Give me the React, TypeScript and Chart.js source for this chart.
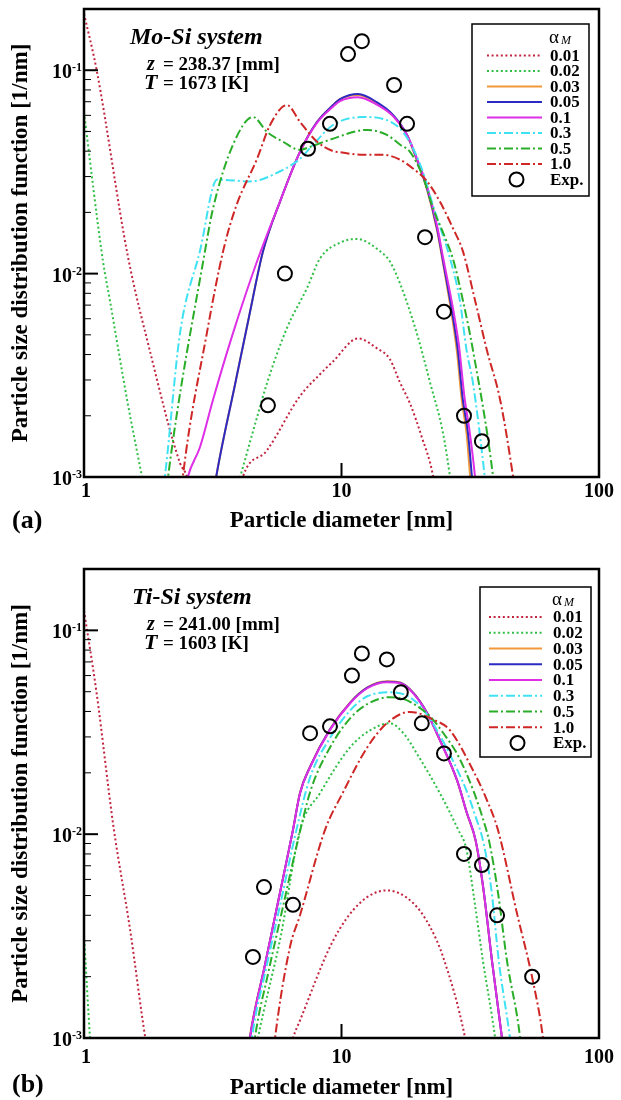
import { useEffect, useRef } from 'react';
import { Chart, registerables } from 'chart.js';

Chart.register(...registerables);

const SERIF = '"Liberation Serif", "Times New Roman", serif';
const W = 621;
const H = 550;

// ---------- (a) Mo-Si system: diameters [nm] and distribution [1/nm] ----------
const moD001 = [1.0, 1.12, 1.48, 1.8, 2.36, 2.51, 3.2, 4.14, 5.13, 6.9, 8.25, 9.27, 11.6, 13.7, 15.4, 16.9, 18.45, 20.5, 22.7, 25.0];
const moF001 = [0.19, 0.1, 0.0122, 0.0042, 0.00117, 0.001, 0.0002, 0.001, 0.00135, 0.0025, 0.0032, 0.0037, 0.0048, 0.0043, 0.0038, 0.0029, 0.0023, 0.00157, 0.001, 0.0004];
const moD002 = [1.0, 1.185, 1.26, 1.47, 1.68, 2.4, 4.04, 4.7, 5.14, 6.14, 7.35, 8.26, 10.0, 11.5, 14.1, 15.4, 16.9, 19.6, 22.1, 24.8, 26.4, 29.0];
const moF002 = [0.062, 0.0115, 0.0074, 0.0024, 0.001, 0.0001, 0.001, 0.00197, 0.0029, 0.0054, 0.0085, 0.0119, 0.0143, 0.0148, 0.0129, 0.0115, 0.0089, 0.0051, 0.0029, 0.00164, 0.001, 0.0004];
const moD003 = [3.0, 3.26, 3.87, 4.37, 4.96, 5.77, 6.9, 8.04, 9.27, 9.87, 11.6, 13.7, 15.85, 17.97, 19.6, 21.5, 23.5, 24.8, 27.0, 28.1, 29.3, 30.6, 31.6, 33.5];
const moF003 = [0.0005, 0.001, 0.0029, 0.0061, 0.0129, 0.0226, 0.0397, 0.0557, 0.0674, 0.0721, 0.0755, 0.069, 0.0598, 0.0478, 0.0362, 0.0258, 0.0163, 0.0112, 0.0059, 0.0041, 0.0024, 0.00164, 0.001, 0.0004];
const moD005 = [3.0, 3.26, 3.87, 4.37, 4.96, 5.77, 6.9, 8.04, 9.27, 9.87, 11.6, 13.7, 15.85, 17.97, 19.6, 21.5, 23.5, 24.8, 27.1, 28.3, 29.6, 31.0, 32.1, 34.0];
const moF005 = [0.0005, 0.001, 0.0029, 0.0061, 0.0129, 0.0226, 0.0397, 0.0557, 0.0674, 0.0721, 0.0763, 0.0697, 0.0603, 0.0481, 0.0367, 0.0262, 0.0167, 0.0115, 0.0061, 0.0042, 0.0024, 0.00164, 0.001, 0.0004];
const moD01 = [2.4, 2.53, 2.82, 3.17, 3.79, 4.7, 5.77, 6.9, 8.04, 9.27, 9.87, 11.6, 13.7, 15.85, 17.97, 19.6, 21.5, 23.5, 24.8, 27.3, 28.6, 30.0, 31.5, 33.0, 35.0];
const moF01 = [0.0007, 0.001, 0.0014, 0.0024, 0.0051, 0.0115, 0.0226, 0.0397, 0.0552, 0.0662, 0.0705, 0.0736, 0.0678, 0.0595, 0.048, 0.037, 0.0268, 0.0172, 0.012, 0.0064, 0.0044, 0.0025, 0.00165, 0.001, 0.0004];
const moD03 = [1.9, 2.06, 2.36, 2.82, 3.29, 4.41, 5.93, 6.9, 7.75, 9.27, 12.1, 14.5, 16.9, 19.0, 21.0, 22.2, 24.2, 25.9, 28.8, 30.6, 32.4, 36.0, 38.0];
const moF03 = [0.0005, 0.001, 0.0051, 0.0129, 0.029, 0.0284, 0.0324, 0.0367, 0.043, 0.0538, 0.0589, 0.0576, 0.0515, 0.0411, 0.03, 0.0235, 0.0168, 0.0129, 0.0074, 0.0042, 0.0029, 0.001, 0.0005];
const moD05 = [2.0, 2.12, 2.95, 3.17, 3.79, 4.53, 5.14, 5.93, 6.9, 7.55, 9.0, 12.6, 15.0, 16.9, 18.45, 20.7, 22.7, 25.0, 27.1, 29.6, 32.4, 38.8, 41.0];
const moF05 = [0.0005, 0.001, 0.0129, 0.0209, 0.043, 0.0589, 0.0497, 0.0445, 0.0406, 0.042, 0.0455, 0.0509, 0.0481, 0.043, 0.0397, 0.03, 0.0209, 0.0155, 0.0118, 0.0074, 0.0042, 0.001, 0.0005];
const moD10 = [2.3, 2.42, 3.0, 3.47, 3.9, 4.7, 5.28, 6.14, 6.9, 8.04, 9.27, 9.87, 12.1, 14.5, 16.9, 19.0, 21.5, 24.1, 27.1, 29.6, 33.0, 36.7, 41.3, 46.4, 50.0];
const moF10 = [0.0005, 0.001, 0.0051, 0.0129, 0.0215, 0.0367, 0.0538, 0.0674, 0.0557, 0.0445, 0.04, 0.0395, 0.0384, 0.0384, 0.0363, 0.0328, 0.0284, 0.0226, 0.0167, 0.0129, 0.0074, 0.0042, 0.0024, 0.001, 0.0005];
const moExpD = [5.18, 6.03, 7.41, 9.02, 10.6, 12.0, 16.0, 17.97, 21.1, 25.0, 29.9, 35.1];
const moExpF = [0.00225, 0.01, 0.0411, 0.0545, 0.12, 0.139, 0.0846, 0.0545, 0.0151, 0.0065, 0.002, 0.0015];

// ---------- (b) Ti-Si system ----------
const tiD001 = [1.0, 1.12, 1.3, 1.51, 1.73, 3.0, 6.48, 6.9, 9.27, 11.8, 15.0, 18.96, 22.1, 24.8, 30.2, 33.0];
const tiF001 = [0.125, 0.049, 0.011, 0.0034, 0.001, 0.00002, 0.001, 0.00122, 0.003, 0.0046, 0.0053, 0.0046, 0.0035, 0.0025, 0.001, 0.0005];
const tiD002 = [1.0, 1.055, 1.2, 3.8, 4.74, 5.82, 6.9, 8.25, 10.8, 12.9, 15.4, 17.5, 19.6, 24.1, 28.4, 30.5, 33.0, 35.4, 39.5, 42.0];
const tiF002 = [0.0032, 0.001, 0.0001, 0.0002, 0.001, 0.0032, 0.0105, 0.0159, 0.0267, 0.0323, 0.035, 0.031, 0.0249, 0.0159, 0.0105, 0.0085, 0.0045, 0.0024, 0.001, 0.0005];
const tiD003 = [4.2, 4.4, 5.05, 5.72, 6.48, 6.9, 7.55, 9.0, 10.8, 12.6, 15.0, 16.9, 19.0, 21.5, 24.1, 28.1, 30.7, 33.2, 35.5, 38.4, 42.0, 45.0];
const tiF003 = [0.0006, 0.001, 0.0023, 0.0049, 0.0105, 0.016, 0.0215, 0.0326, 0.0443, 0.0525, 0.0562, 0.0555, 0.0494, 0.0393, 0.0289, 0.0183, 0.0126, 0.0092, 0.0054, 0.0024, 0.001, 0.0005];
const tiD005 = [4.2, 4.41, 5.05, 5.72, 6.48, 6.9, 7.55, 9.0, 10.8, 12.6, 15.0, 16.9, 19.0, 21.5, 24.1, 28.1, 30.7, 33.2, 35.5, 38.4, 42.0, 45.0];
const tiF005 = [0.0006, 0.001, 0.0023, 0.0049, 0.0105, 0.0159, 0.0214, 0.0325, 0.0441, 0.0523, 0.056, 0.0553, 0.0493, 0.0393, 0.029, 0.0184, 0.0127, 0.0093, 0.0055, 0.0024, 0.001, 0.0005];
const tiD01 = [4.2, 4.41, 5.05, 5.72, 6.48, 6.9, 7.55, 9.0, 10.8, 12.6, 15.0, 16.9, 19.0, 21.5, 24.1, 28.1, 30.7, 33.2, 35.5, 38.4, 42.0, 45.0];
const tiF01 = [0.0006, 0.001, 0.0023, 0.0049, 0.0105, 0.0159, 0.0213, 0.0323, 0.0439, 0.052, 0.0556, 0.055, 0.0491, 0.0392, 0.0289, 0.0184, 0.0127, 0.0093, 0.0055, 0.0024, 0.001, 0.0005];
const tiD03 = [4.3, 4.49, 5.1, 5.8, 6.6, 7.55, 9.0, 10.8, 12.6, 15.7, 17.5, 19.5, 22.0, 25.0, 28.0, 30.5, 32.8, 35.8, 38.3, 40.8, 45.1, 48.0];
const tiF03 = [0.0006, 0.001, 0.0022, 0.0046, 0.0098, 0.019, 0.0295, 0.0405, 0.0475, 0.0497, 0.0485, 0.0445, 0.037, 0.028, 0.021, 0.0165, 0.0127, 0.0088, 0.0052, 0.0024, 0.001, 0.0005];
const tiD05 = [4.4, 4.61, 5.2, 5.9, 6.7, 7.6, 9.0, 10.8, 12.6, 15.4, 17.5, 19.5, 22.0, 25.0, 28.5, 32.6, 35.5, 37.4, 40.5, 43.9, 49.4, 52.0];
const tiF05 = [0.0006, 0.001, 0.0021, 0.0043, 0.0088, 0.0165, 0.0265, 0.037, 0.0435, 0.047, 0.046, 0.0428, 0.038, 0.031, 0.024, 0.0162, 0.0118, 0.0093, 0.0052, 0.0024, 0.001, 0.0005];
const tiD10 = [5.3, 5.52, 6.31, 6.9, 8.63, 10.1, 12.6, 15.0, 18.45, 22.7, 26.4, 32.4, 36.7, 40.5, 48.0, 55.4, 60.6, 64.0];
const tiF10 = [0.0006, 0.001, 0.0028, 0.004, 0.0105, 0.0159, 0.0267, 0.035, 0.0398, 0.0365, 0.0323, 0.0206, 0.0147, 0.0105, 0.0041, 0.0019, 0.001, 0.0005];
const tiExpD = [4.53, 5.0, 6.48, 7.55, 9.02, 10.98, 12.0, 15.0, 17.0, 20.5, 25.0, 29.9, 35.1, 40.2, 55.0];
const tiExpF = [0.0025, 0.0055, 0.0045, 0.0313, 0.0338, 0.06, 0.077, 0.072, 0.0497, 0.035, 0.0249, 0.008, 0.00705, 0.004, 0.002];

// ---------- shared labels and ticks ----------
const alphaLabels = ['0.01', '0.02', '0.03', '0.05', '0.1', '0.3', '0.5', '1.0'];
const expLabel = 'Exp.';
const xTicks = [1, 10, 100];
const xTickLabels = ['1', '10', '100'];
const yTicks = [0.001, 0.01, 0.1];
const yTickExps = ['-3', '-2', '-1'];
const xTitle = 'Particle diameter [nm]';
const yTitle = 'Particle size distribution function [1/nm]';

// line styles, one per alpha_M value
const lineColors = ['#c2243f', '#2fbf45', '#f0983a', '#2b2bc4', '#de2ee6', '#3fe2f2', '#2aae2a', '#cf2626'];
const DOT = [2, 2.6];
const DASHDOT = [9, 3, 2, 3];
const lineDashes = [DOT, DOT, [], [], [], DASHDOT, DASHDOT, DASHDOT];
const drawOrder = [8, 7, 6, 5, 4, 3, 2, 1];

type PanelSpec = {
  top: number;
  padTop: number;
  axisH: number;
  xs: number[][];
  ys: number[][];
  expX: number[];
  expY: number[];
  system: string;
  zText: string;
  tText: string;
  tag: string;
  systemX: number;
  xLabelBase: number;
  xTitleBase: number;
  tagBase: number;
  legend: { l: number; r: number; t: number; b: number; titleY: number; row0: number; step: number; s0: number; s1: number; tx: number };
};

const panelA: PanelSpec = {
  top: 0,
  padTop: 7,
  axisH: 73,
  xs: [moD001, moD002, moD003, moD005, moD01, moD03, moD05, moD10],
  ys: [moF001, moF002, moF003, moF005, moF01, moF03, moF05, moF10],
  expX: moExpD,
  expY: moExpF,
  system: 'Mo-Si system',
  zText: '= 238.37 [mm]',
  tText: '= 1673 [K]',
  tag: '(a)',
  systemX: 130,
  xLabelBase: 20,
  xTitleBase: 50,
  tagBase: 51,
  legend: { l: 472, r: 589, t: 24, b: 196, titleY: 38, row0: 55.5, step: 15.5, s0: 487, s1: 542, tx: 550 },
};

const panelB: PanelSpec = {
  top: 550,
  padTop: 19,
  axisH: 62,
  xs: [tiD001, tiD002, tiD003, tiD005, tiD01, tiD03, tiD05, tiD10],
  ys: [tiF001, tiF002, tiF003, tiF005, tiF01, tiF03, tiF05, tiF10],
  expX: tiExpD,
  expY: tiExpF,
  system: 'Ti-Si system',
  zText: '= 241.00 [mm]',
  tText: '= 1603 [K]',
  tag: '(b)',
  systemX: 132,
  xLabelBase: 25,
  xTitleBase: 56,
  tagBase: 54,
  legend: { l: 480, r: 591, t: 37, b: 207, titleY: 50, row0: 67, step: 15.75, s0: 489, s1: 542, tx: 553 },
};

function decor(spec: PanelSpec) {
  return {
    id: 'decor',
    afterDraw(chart: any) {
      const { ctx, chartArea: a } = chart;
      const sx = chart.scales.x;
      const sy = chart.scales.y;
      const seg = (x1: number, y1: number, x2: number, y2: number) => {
        ctx.beginPath();
        ctx.moveTo(x1, y1);
        ctx.lineTo(x2, y2);
        ctx.stroke();
      };
      ctx.save();
      ctx.strokeStyle = '#000';
      ctx.fillStyle = '#000';
      ctx.setLineDash([]);

      // minor y ticks
      ctx.lineWidth = 1;
      for (let d = -3; d <= -1; d++) {
        for (let k = 2; k <= 9; k++) {
          const v = k * Math.pow(10, d);
          if (v >= sy.max) continue;
          const py = sy.getPixelForValue(v);
          seg(a.left, py, a.left + 7, py);
        }
      }
      // major ticks
      ctx.lineWidth = 2;
      yTicks.forEach((v) => {
        const py = sy.getPixelForValue(v);
        seg(a.left, py, a.left + 14, py);
      });
      xTicks.forEach((v) => {
        const px = sx.getPixelForValue(v);
        seg(px, a.bottom, px, a.bottom - 14);
      });
      // frame
      ctx.lineWidth = 2.5;
      ctx.strokeRect(a.left, a.top, a.right - a.left, a.bottom - a.top);

      // y tick labels 10^n
      yTicks.forEach((v, i) => {
        const py = sy.getPixelForValue(v);
        ctx.font = `bold 12px ${SERIF}`;
        ctx.textAlign = 'left';
        ctx.textBaseline = 'alphabetic';
        const ws = ctx.measureText(yTickExps[i]).width;
        const xr = a.left - 2;
        ctx.fillText(yTickExps[i], xr - ws, py + 1);
        ctx.font = `bold 20px ${SERIF}`;
        ctx.textAlign = 'right';
        ctx.fillText('10', xr - ws, py + 8);
      });
      // x tick labels
      ctx.font = `bold 20px ${SERIF}`;
      ctx.textAlign = 'center';
      ctx.textBaseline = 'alphabetic';
      xTicks.forEach((v, i) => {
        ctx.fillText(xTickLabels[i], sx.getPixelForValue(v) + (i === 0 ? 2 : 0), a.bottom + spec.xLabelBase);
      });
      // axis titles
      ctx.font = `bold 23px ${SERIF}`;
      ctx.fillText(xTitle, (a.left + a.right) / 2, a.bottom + spec.xTitleBase);
      ctx.save();
      ctx.translate(21, (a.top + a.bottom) / 2);
      ctx.rotate(-Math.PI / 2);
      ctx.textBaseline = 'middle';
      ctx.fillText(yTitle, 0, 0);
      ctx.restore();
      // panel tag
      ctx.font = `bold 26px ${SERIF}`;
      ctx.textAlign = 'left';
      ctx.fillText(spec.tag, 12, a.bottom + spec.tagBase);

      // system annotation
      ctx.font = `italic bold 24px ${SERIF}`;
      ctx.fillText(spec.system, spec.systemX, a.top + 34.5);
      ctx.font = `italic bold 20px ${SERIF}`;
      ctx.fillText('z', 147, a.top + 61);
      ctx.font = `italic bold 22px ${SERIF}`;
      ctx.fillText('T', 144, a.top + 80);
      ctx.font = `bold 19px ${SERIF}`;
      ctx.fillText(spec.zText, 163, a.top + 61);
      ctx.fillText(spec.tText, 163, a.top + 80);

      // legend
      const L = spec.legend;
      ctx.fillStyle = '#fff';
      ctx.fillRect(L.l, L.t, L.r - L.l, L.b - L.t);
      ctx.lineWidth = 1.5;
      ctx.strokeStyle = '#000';
      ctx.strokeRect(L.l, L.t, L.r - L.l, L.b - L.t);
      ctx.fillStyle = '#000';
      ctx.textBaseline = 'middle';
      ctx.font = `19px ${SERIF}`;
      ctx.fillText('\u03b1', L.tx - 1, L.titleY);
      ctx.font = `italic 12px ${SERIF}`;
      ctx.fillText('M', L.tx + 11, L.titleY + 3);
      const ds = chart.data.datasets;
      ctx.font = `bold 17px ${SERIF}`;
      alphaLabels.forEach((lab, i) => {
        const y = L.row0 + L.step * i;
        const d = ds[i];
        ctx.save();
        ctx.strokeStyle = d.borderColor;
        ctx.lineWidth = 2;
        ctx.setLineDash(d.borderDash);
        seg(L.s0, y, L.s1, y);
        ctx.restore();
        ctx.fillText(lab, L.tx, y + 1);
      });
      const ey = L.row0 + L.step * alphaLabels.length;
      ctx.lineWidth = 2;
      ctx.beginPath();
      ctx.arc((L.s0 + L.s1) / 2 + 2, ey, 7, 0, Math.PI * 2);
      ctx.stroke();
      ctx.fillText(expLabel, L.tx, ey + 1);
      ctx.restore();
    },
  };
}

function Panel({ spec }: { spec: PanelSpec }) {
  const ref = useRef<HTMLCanvasElement>(null);
  useEffect(() => {
    const canvas = ref.current;
    if (!canvas) return;
    const datasets: any[] = spec.xs.map((xs, i) => ({
      label: alphaLabels[i],
      data: xs.map((x, j) => ({ x, y: spec.ys[i][j] })),
      showLine: true,
      fill: false,
      borderColor: lineColors[i],
      borderDash: lineDashes[i],
      borderWidth: 2,
      pointRadius: 0,
      pointHoverRadius: 0,
      cubicInterpolationMode: 'monotone',
      order: drawOrder[i],
    }));
    datasets.push({
      label: expLabel,
      data: spec.expX.map((x, j) => ({ x, y: spec.expY[j] })),
      showLine: false,
      pointStyle: 'circle',
      pointRadius: 7,
      pointHoverRadius: 7,
      pointBorderWidth: 2,
      pointBorderColor: '#000',
      pointBackgroundColor: 'rgba(0,0,0,0)',
      borderColor: '#000',
      order: 0,
    });
    const chart = new Chart(canvas, {
      type: 'scatter',
      data: { datasets },
      options: {
        responsive: false,
        animation: false,
        devicePixelRatio: 1,
        events: [],
        layout: { padding: { left: 0, right: 22, top: spec.padTop, bottom: 0 } },
        elements: { line: { capBezierPoints: false } },
        plugins: { legend: { display: false }, tooltip: { enabled: false } },
        scales: {
          x: {
            type: 'logarithmic',
            min: 1,
            max: 100,
            ticks: { display: false },
            grid: { display: false },
            border: { display: false },
            afterFit: (s: any) => {
              s.height = spec.axisH;
            },
          },
          y: {
            type: 'logarithmic',
            min: 0.001,
            max: 0.2,
            ticks: { display: false },
            grid: { display: false },
            border: { display: false },
            afterFit: (s: any) => {
              s.width = 84;
            },
          },
        },
      } as any,
      plugins: [decor(spec)],
    });
    return () => chart.destroy();
  }, [spec]);
  return (
    <canvas
      ref={ref}
      width={W}
      height={H}
      style={{ position: 'absolute', left: 0, top: spec.top, width: W, height: H }}
    />
  );
}

export default function App() {
  return (
    <div style={{ position: 'absolute', left: 0, top: 0, width: W, height: 2 * H, background: '#fff' }}>
      <Panel spec={panelA} />
      <Panel spec={panelB} />
    </div>
  );
}
